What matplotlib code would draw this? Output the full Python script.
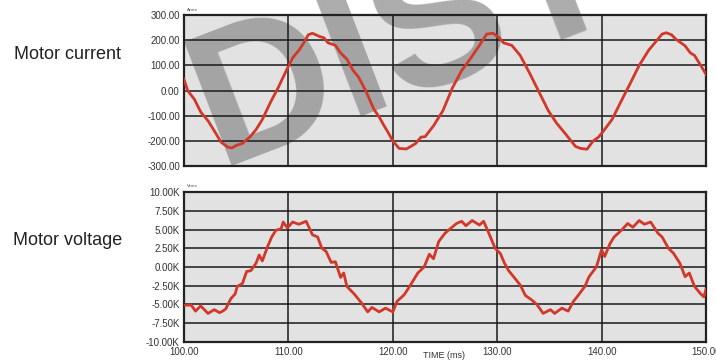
import matplotlib
matplotlib.use("Agg")
import matplotlib.pyplot as plt
from matplotlib.ticker import FuncFormatter

# current trace (ms, Arms)
t_cur = [100.0, 100.35, 101.0, 101.6, 102.3, 102.9, 103.55, 104.2, 104.6, 105.0,
         105.6, 106.0, 106.3, 106.9, 107.5, 108.3, 109.0, 109.8, 110.4, 111.0,
         111.4, 111.9, 112.3, 113.0, 113.4, 113.8, 114.5, 115.0, 115.6, 116.2,
         116.7, 117.4, 118.2, 118.7, 119.1, 119.6, 120.0, 120.6, 121.3, 121.8,
         122.2, 122.7, 123.1, 123.9, 124.8, 125.7, 126.6, 127.4, 128.3, 129.0,
         129.6, 130.2, 130.6, 131.4, 131.8, 132.2, 133.1, 134.0, 134.9, 135.7,
         136.6, 137.5, 138.0, 138.6, 139.2, 139.7, 140.1, 141.0, 141.9, 142.7,
         143.6, 144.5, 145.4, 145.8, 146.2, 146.7, 147.1, 148.0, 148.5, 148.9,
         149.5, 150.0]
i_cur = [45, 0, -35, -85, -120, -160, -205, -225, -228, -218,
         -210, -195, -185, -155, -115, -45, 10, 80, 130, 160,
         185, 222, 228, 215, 210, 190, 180, 150, 125, 80,
         55, 0, -75, -105, -135, -170, -200, -230, -232, -220,
         -210, -185, -183, -140, -80, 10, 80, 125, 180, 225,
         228, 210, 190, 180, 160, 140, 70, -5, -80, -130,
         -175, -222, -230, -233, -200, -185, -165, -115, -40, 25,
         100, 160, 205, 225, 230, 222, 205, 178, 150, 140,
         100, 65]

# voltage trace (ms, kVrms)
t_volt = [100.0, 100.7, 101.1, 101.6, 102.3, 102.9, 103.4, 103.7, 104.0, 104.5,
          104.9, 105.1, 105.6, 106.0, 106.4, 106.9, 107.2, 107.5, 108.0, 108.4,
          108.8, 109.3, 109.5, 109.9, 110.4, 111.0, 111.7, 112.3, 112.8, 113.2,
          113.6, 114.1, 114.5, 115.0, 115.3, 115.6, 116.3, 117.0, 117.6, 118.0,
          118.7, 119.3, 120.0, 120.4, 121.1, 121.7, 122.4, 123.0, 123.5, 123.9,
          124.4, 125.0, 125.5, 126.1, 126.6, 127.0, 127.6, 128.3, 128.7, 129.2,
          129.8, 130.3, 130.7, 131.1, 131.8, 132.2, 132.7, 133.3, 133.8, 134.4,
          135.1, 135.5, 136.2, 136.8, 137.3, 137.7, 138.4, 138.8, 139.5, 140.0,
          140.3, 140.8, 141.2, 141.9, 142.5, 143.0, 143.6, 144.1, 144.7, 145.4,
          145.8, 146.4, 146.9, 147.5, 148.0, 148.4, 148.9, 149.5, 149.8, 150.0]
v_volt = [-5.1, -5.1, -5.9, -5.2, -6.2, -5.7, -6.1, -5.9, -5.6, -4.2,
          -3.6, -2.6, -2.2, -0.6, -0.5, 0.5, 1.6, 0.8, 2.7, 4.0,
          4.9, 5.1, 6.0, 5.2, 6.0, 5.7, 6.1, 4.3, 4.0, 2.5,
          2.1, 0.6, 0.7, -1.4, -0.8, -2.6, -3.6, -4.8, -6.0, -5.4,
          -6.0, -5.5, -6.0, -4.6, -3.7, -2.4, -0.8, 0.0, 1.7, 1.1,
          3.4, 4.5, 5.1, 5.8, 6.1, 5.5, 6.2, 5.6, 6.1, 4.5,
          2.5, 1.8, 0.5, -0.5, -1.7, -2.4, -3.8, -4.4, -5.0, -6.2,
          -5.7, -6.2, -5.5, -5.9, -4.6, -3.9, -2.6, -1.3, 0.0, 2.3,
          1.4, 3.1, 4.0, 4.9, 5.8, 5.3, 6.2, 5.7, 6.0, 4.5,
          4.0, 2.5, 1.8, 0.5, -1.3, -0.8, -2.6, -3.6, -4.0, -3.0]

x_ticks = [100, 110, 120, 130, 140, 150]
cur_ticks = [-300, -200, -100, 0, 100, 200, 300]
volt_ticks = [-10, -7.5, -5, -2.5, 0, 2.5, 5, 7.5, 10]

narrow = ['Liberation Sans Narrow', 'Liberation Sans', 'DejaVu Sans']
red = '#d2382a'
panel = '#e2e2e2'

fig = plt.figure(figsize=(7.16, 3.61), dpi=100)
ax1 = fig.add_axes([0.257, 0.540, 0.729, 0.418])
ax2 = fig.add_axes([0.257, 0.053, 0.729, 0.415])

for ax in (ax1, ax2):
    ax.set_facecolor(panel)
    ax.set_xlim(100, 150)
    ax.set_xticks(x_ticks)
    ax.grid(True, color='#1a1a1a', linewidth=1.1)
    ax.tick_params(length=0, labelsize=7, labelcolor='#333333', pad=3)
    for s in ax.spines.values():
        s.set_color('#222222')
        s.set_linewidth(1.6)

ax1.plot(t_cur, i_cur, color=red, linewidth=2, zorder=3)
ax1.set_ylim(-300, 300)
ax1.set_yticks(cur_ticks)
ax1.yaxis.set_major_formatter(FuncFormatter(lambda v, p: f'{v:.2f}'))
ax1.tick_params(axis='x', labelbottom=False)

ax2.plot(t_volt, v_volt, color=red, linewidth=2, zorder=3)
ax2.set_ylim(-10, 10)
ax2.set_yticks(volt_ticks)
ax2.yaxis.set_major_formatter(FuncFormatter(lambda v, p: f'{v:.2f}K'))
ax2.xaxis.set_major_formatter(FuncFormatter(lambda v, p: f'{v:.2f}'))
ax2.tick_params(axis='x', pad=4)
for lab in ax1.get_yticklabels() + ax2.get_yticklabels() + ax2.get_xticklabels():
    lab.set_family(narrow)

# watermark, under the grid and the traces
ax1.text(0.305, 0.540, 'DIST', transform=fig.transFigure, fontsize=139,
         fontweight='bold', color='#8c8c8c', alpha=0.72, rotation=21,
         rotation_mode='anchor', ha='left', va='baseline', zorder=1,
         clip_on=False, family=['Liberation Sans', 'DejaVu Sans'])

fig.text(0.094, 0.848, 'Motor current', fontsize=13, family=narrow,
         color='#222222', ha='center', va='center')
fig.text(0.094, 0.335, 'Motor voltage', fontsize=13, family=narrow,
         color='#222222', ha='center', va='center')
fig.text(0.261, 0.968, 'Arms', fontsize=3, color='#444444', ha='left', va='bottom')
fig.text(0.261, 0.478, 'Vrms', fontsize=3, color='#444444', ha='left', va='bottom')
fig.text(0.620, 0.002, 'TIME (ms)', fontsize=6.5, family=narrow,
         color='#333333', ha='center', va='bottom')

fig.savefig('out.png', dpi=100)
